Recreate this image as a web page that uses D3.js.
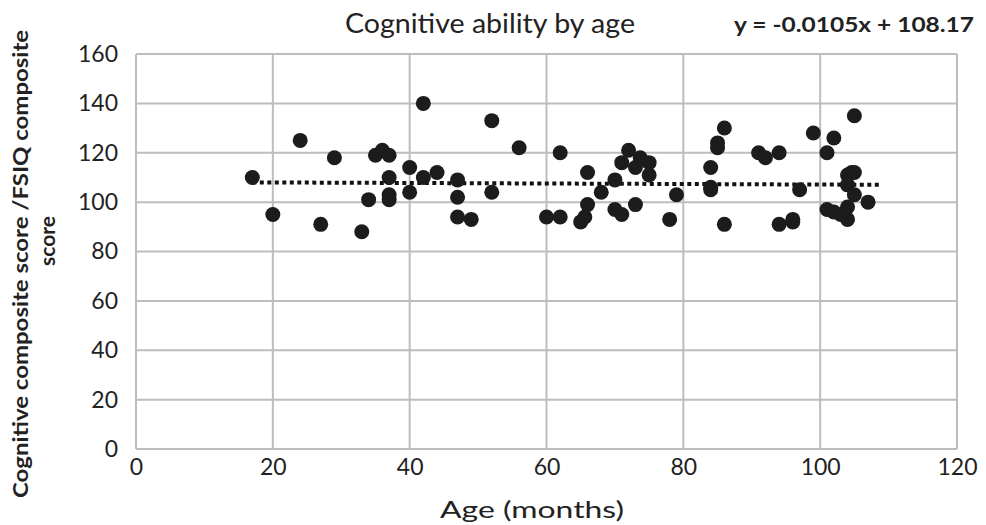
<!DOCTYPE html>
<html>
<head>
<meta charset="utf-8">
<script src="https://cdn.jsdelivr.net/npm/d3@7"></script>
<style>
  body { margin: 0; background: #fff; }
  text { font-family: Lato, "Open Sans", sans-serif; fill: #222; }
</style>
</head>
<body>
<div id="chart"></div>
<script>
// scatter of cognitive score vs age, with excel-style linear trendline

var ages = [17, 20, 24, 27, 29, 33, 34, 35, 36, 37, 37, 37, 37, 40, 40, 42, 42, 44,
            47, 47, 47, 49, 52, 52, 56, 60, 62, 62, 65, 65.6, 66, 66, 68, 70, 70, 71,
            71, 72, 73, 73.7, 75, 75, 73, 78, 79, 84, 84, 84, 85, 85, 86, 86, 91, 92,
            94, 94, 96, 96, 97, 99, 101, 102, 101, 102, 103, 104, 104, 104, 104.6, 105,
            104, 105, 105, 107];
var scores = [110, 95, 125, 91, 118, 88, 101, 119, 121, 119, 110, 103, 101, 114, 104, 140, 110, 112,
              109, 102, 94, 93, 133, 104, 122, 94, 120, 94, 92, 94, 99, 112, 104, 109, 97, 95,
              116, 121, 114, 118, 116, 111, 99, 93, 103, 114, 106, 105, 124, 122, 130, 91, 120, 118,
              120, 91, 92, 93, 105, 128, 120, 126, 97, 96, 95, 93, 98, 111, 112, 112,
              107, 103, 135, 100];

var xTicks = [0, 20, 40, 60, 80, 100, 120];
var yTicks = [0, 20, 40, 60, 80, 100, 120, 140, 160];

var slope = -0.0105, intercept = 108.17;
var trendRange = [17, 109];

var w = 986, h = 525;
var margin = {top: 54, right: 29, bottom: 76, left: 136};

var svg = d3.select("#chart")
            .append("svg")
            .attr("width", w)
            .attr("height", h);

var x = d3.scaleLinear().domain([0, 120]).range([margin.left, w - margin.right]);
var y = d3.scaleLinear().domain([0, 160]).range([h - margin.bottom, margin.top]);

// grid
svg.append("g")
   .selectAll("line")
   .data(yTicks)
   .enter()
   .append("line")
   .attr("x1", x(0)).attr("x2", x(120))
   .attr("y1", function(d){ return y(d); })
   .attr("y2", function(d){ return y(d); })
   .attr("stroke", "#bdbdbd")
   .attr("stroke-width", 2);

svg.append("g")
   .selectAll("line")
   .data(xTicks)
   .enter()
   .append("line")
   .attr("y1", y(0)).attr("y2", y(160))
   .attr("x1", function(d){ return x(d); })
   .attr("x2", function(d){ return x(d); })
   .attr("stroke", "#bdbdbd")
   .attr("stroke-width", 2);

// axes, labels only
var xAxis = svg.append("g")
   .attr("transform", "translate(0," + y(0) + ")")
   .call(d3.axisBottom(x).tickValues(xTicks).tickSize(0).tickPadding(10));
xAxis.select(".domain").remove();
xAxis.selectAll("text").style("font-size", "23px").attr("fill", "#222");

var yAxis = svg.append("g")
   .attr("transform", "translate(" + x(0) + ",0)")
   .call(d3.axisLeft(y).tickValues(yTicks).tickSize(0).tickPadding(18));
yAxis.select(".domain").remove();
yAxis.selectAll("text").style("font-size", "23px").attr("fill", "#222");

// trendline
svg.append("line")
   .attr("x1", x(trendRange[0]))
   .attr("x2", x(trendRange[1]))
   .attr("y1", y(slope * trendRange[0] + intercept))
   .attr("y2", y(slope * trendRange[1] + intercept))
   .attr("stroke", "#111")
   .attr("stroke-width", 4)
   .attr("stroke-dasharray", "4,3.5");

// points
svg.append("g")
   .selectAll("circle")
   .data(ages)
   .enter()
   .append("circle")
   .attr("cx", function(d){ return x(d); })
   .attr("cy", function(d, i){ return y(scores[i]); })
   .attr("r", 7.5)
   .attr("fill", "#1c1c1c");

// titles
svg.append("text")
   .attr("x", 490)
   .attr("y", 33)
   .attr("text-anchor", "middle")
   .style("font-size", "26px")
   .attr("textLength", 290)
   .attr("lengthAdjust", "spacingAndGlyphs")
   .text("Cognitive ability by age");

svg.append("text")
   .attr("x", 974)
   .attr("y", 32)
   .attr("text-anchor", "end")
   .style("font-size", "20px")
   .style("font-weight", "bold")
   .attr("textLength", 240)
   .attr("lengthAdjust", "spacingAndGlyphs")
   .text("y = -0.0105x + 108.17");

svg.append("text")
   .attr("x", 532)
   .attr("y", 518)
   .attr("text-anchor", "middle")
   .style("font-size", "23px")
   .attr("textLength", 184)
   .attr("lengthAdjust", "spacingAndGlyphs")
   .text("Age (months)");

svg.append("text")
   .attr("transform", "translate(28,264) rotate(-90)")
   .attr("text-anchor", "middle")
   .style("font-size", "20px")
   .style("font-weight", "bold")
   .attr("textLength", 468)
   .attr("lengthAdjust", "spacingAndGlyphs")
   .text("Cognitive composite score /FSIQ composite");

svg.append("text")
   .attr("transform", "translate(55,241) rotate(-90)")
   .attr("text-anchor", "middle")
   .style("font-size", "20px")
   .style("font-weight", "bold")
   .attr("textLength", 50)
   .attr("lengthAdjust", "spacingAndGlyphs")
   .text("score");
</script>
</body>
</html>
